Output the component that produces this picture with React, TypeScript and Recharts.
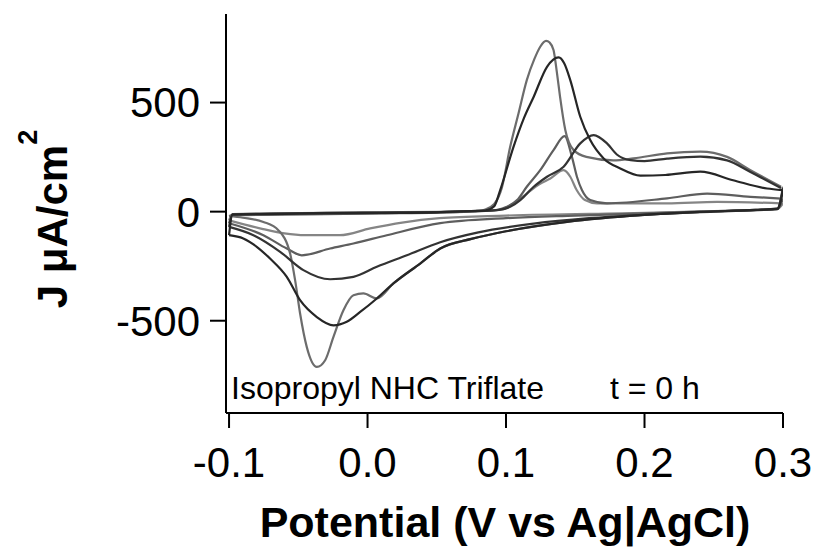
import React from "react";
import { LineChart, Line, XAxis, YAxis } from "recharts";

// cyclic voltammograms, potential (V vs Ag|AgCl) vs current density (µA/cm²)
// each cycle split into the anodic sweep and the cathodic sweep, both listed with rising potential
const cycle1Anodic = [
  [-0.1, -20], [-0.0975, -16], [-0.07, -13], [-0.03, -10], [0.01, -7], [0.05, -4], [0.075, 1],
  [0.085, 10], [0.0915, 35], [0.097, 110], [0.103, 297], [0.109, 450], [0.115, 603], [0.1205, 700],
  [0.1247, 756], [0.1289, 783], [0.1315, 775], [0.1343, 741], [0.1367, 640], [0.139, 527],
  [0.1428, 374], [0.1488, 282], [0.158, 251], [0.1775, 235], [0.192, 244], [0.2163, 267],
  [0.2403, 275], [0.2596, 251], [0.2765, 190], [0.2986, 114],
];
const cycle1Cathodic = [
  [-0.1, -20], [-0.09, -28], [-0.0752, -47], [-0.0644, -85], [-0.0559, -192], [-0.0523, -314],
  [-0.0487, -467], [-0.0439, -620], [-0.0366, -712], [-0.0306, -681], [-0.0246, -574],
  [-0.0174, -452], [-0.0102, -383], [-0.003, -375], [0.0067, -398], [0.0187, -329], [0.038, -238],
  [0.0525, -169], [0.075, -125], [0.1, -90], [0.144, -47], [0.2, -15], [0.24, -1], [0.28, 8],
  [0.296, 14], [0.3, 114],
];

const cycle2Anodic = [
  [-0.1, -108], [-0.0975, -14], [-0.07, -11], [-0.03, -8], [0.01, -6], [0.05, -3], [0.075, 2],
  [0.085, 5], [0.0915, 25], [0.0958, 99], [0.1054, 297], [0.113, 430], [0.12, 527], [0.1296, 664],
  [0.138, 707], [0.142, 680], [0.1464, 603], [0.1536, 435], [0.1608, 328], [0.1705, 244],
  [0.1825, 198], [0.197, 165], [0.215, 168], [0.2403, 183], [0.264, 144], [0.2885, 106],
  [0.2994, 99],
];
const cycle2Cathodic = [
  [-0.1, -108], [-0.0897, -123], [-0.08, -161], [-0.0704, -215], [-0.0583, -299], [-0.0487, -406],
  [-0.0366, -483], [-0.0246, -521], [-0.015, -505], [-0.0053, -460], [0.0067, -398],
  [0.0187, -329], [0.038, -238], [0.0525, -169], [0.075, -125], [0.1, -90], [0.144, -47],
  [0.2, -15], [0.24, -1], [0.28, 8], [0.296, 14], [0.3, 99],
];

const cycle3Anodic = [
  [-0.1, -70], [-0.0975, -12], [-0.07, -9], [-0.03, -6], [0.01, -4], [0.05, -2], [0.075, 3],
  [0.085, 4], [0.095, 8], [0.103, 22], [0.1103, 53], [0.12, 114], [0.1296, 160], [0.1416, 206],
  [0.1536, 313], [0.1633, 351], [0.1729, 313], [0.18, 262], [0.19, 236], [0.2, 232],
  [0.2163, 243], [0.2403, 252], [0.2596, 235], [0.2765, 182], [0.2986, 108],
];
const cycle3Cathodic = [
  [-0.1, -70], [-0.0824, -108], [-0.0631, -184], [-0.0463, -268], [-0.027, -310], [-0.0102, -299],
  [0.0067, -253], [0.0284, -200], [0.0525, -140], [0.08, -95], [0.12, -55], [0.16, -30],
  [0.2, -14], [0.25, 0], [0.296, 12], [0.3, 108],
];

const cycle4Anodic = [
  [-0.1, -53], [-0.0975, -17], [-0.07, -14], [-0.03, -11], [0.01, -8], [0.05, -5], [0.075, 0],
  [0.085, 3], [0.094, 8], [0.1006, 22], [0.108, 53], [0.115, 114], [0.1247, 190], [0.1343, 282],
  [0.1423, 346], [0.1476, 251], [0.1512, 160], [0.1548, 99], [0.1608, 53], [0.1729, 38],
  [0.2163, 61], [0.2452, 83], [0.2765, 68], [0.2986, 60],
];
const cycle4Cathodic = [
  [-0.1, -53], [-0.0752, -108], [-0.0583, -169], [-0.0475, -200], [-0.027, -169],
  [-0.0102, -146], [0.0139, -108], [0.0525, -53], [0.1, -30], [0.15, -18], [0.2, -8],
  [0.25, 2], [0.296, 12], [0.3, 60],
];

const cycle5Anodic = [
  [-0.1, -40], [-0.0975, -11], [-0.07, -8], [-0.03, -5], [0.01, -3], [0.05, -1], [0.075, 3],
  [0.085, 4], [0.097, 10], [0.1054, 38], [0.115, 83], [0.124, 125], [0.132, 152], [0.1416, 190],
  [0.1464, 160], [0.151, 99], [0.157, 53], [0.1657, 38], [0.2163, 38], [0.2524, 45],
  [0.2986, 38],
];
const cycle5Cathodic = [
  [-0.1, -40], [-0.0754, -80], [-0.06, -100], [-0.045, -108], [-0.02, -108], [0.0019, -77],
  [0.025, -50], [0.052, -30], [0.1, -18], [0.2, -5], [0.25, 3], [0.296, 12], [0.3, 38],
];

const xTicks = [-0.1, 0, 0.1, 0.2, 0.3];
const yTicks = [-500, 0, 500];

const FONT = "'Liberation Sans', Arial, Helvetica, sans-serif";

const toPoints = (arr: number[][]) => arr.map(([x, y]) => ({ x, y }));

// drawn light first so the darker cycles sit on top
const series = [
  { id: "c5", color: "#858585", branches: [cycle5Anodic, cycle5Cathodic] },
  { id: "c4", color: "#5e5e5e", branches: [cycle4Anodic, cycle4Cathodic] },
  { id: "c1", color: "#6c6c6c", branches: [cycle1Anodic, cycle1Cathodic] },
  { id: "c3", color: "#333333", branches: [cycle3Anodic, cycle3Cathodic] },
  { id: "c2", color: "#262626", branches: [cycle2Anodic, cycle2Cathodic] },
];

export default function App() {
  return (
    <div style={{ position: "absolute", left: 0, top: 0, width: 817, height: 548, background: "#fff", fontFamily: FONT }}>
      <LineChart width={817} height={548} margin={{ top: 14, right: 34, left: 0, bottom: 0 }}>
        <XAxis
          type="number"
          dataKey="x"
          domain={[-0.1022, 0.3]}
          ticks={xTicks}
          allowDataOverflow
          tickFormatter={(v) => Number(v).toFixed(1)}
          height={135}
          tickSize={15}
          tickMargin={19}
          axisLine={{ stroke: "#000", strokeWidth: 2 }}
          tickLine={{ stroke: "#000", strokeWidth: 2 }}
          tick={{ fontSize: 42, fill: "#000", fontFamily: FONT }}
        />
        <YAxis
          type="number"
          dataKey="y"
          domain={[-923, 906]}
          ticks={yTicks}
          allowDataOverflow
          width={226}
          tickSize={16}
          tickMargin={10}
          axisLine={{ stroke: "#000", strokeWidth: 2 }}
          tickLine={{ stroke: "#000", strokeWidth: 2 }}
          tick={{ fontSize: 42, fill: "#000", fontFamily: FONT }}
        />
        {series.flatMap((s) =>
          s.branches.map((b, i) => (
            <Line
              key={`${s.id}-${i}`}
              data={toPoints(b)}
              dataKey="y"
              type="monotone"
              stroke={s.color}
              strokeWidth={2.2}
              dot={false}
              activeDot={false}
              isAnimationActive={false}
            />
          ))
        )}
      </LineChart>
      <svg width={817} height={548} style={{ position: "absolute", left: 0, top: 0, pointerEvents: "none" }}>
        <text x={231} y={399} fontSize={32} fontFamily={FONT} fill="#000">
          Isopropyl NHC Triflate
        </text>
        <text x={610} y={399} fontSize={32} fontFamily={FONT} fill="#000">
          t = 0 h
        </text>
        <text x={505} y={537} fontSize={43} fontWeight="bold" textAnchor="middle" fontFamily={FONT} fill="#000">
          Potential (V vs Ag|AgCl)
        </text>
        <text
          x={67}
          y={219}
          transform="rotate(-90, 67, 219)"
          fontSize={42}
          fontWeight="bold"
          textAnchor="middle"
          fontFamily={FONT}
          fill="#000"
        >
          J μA/cm
          <tspan fontSize={27} dy={-30}>2</tspan>
        </text>
      </svg>
    </div>
  );
}
